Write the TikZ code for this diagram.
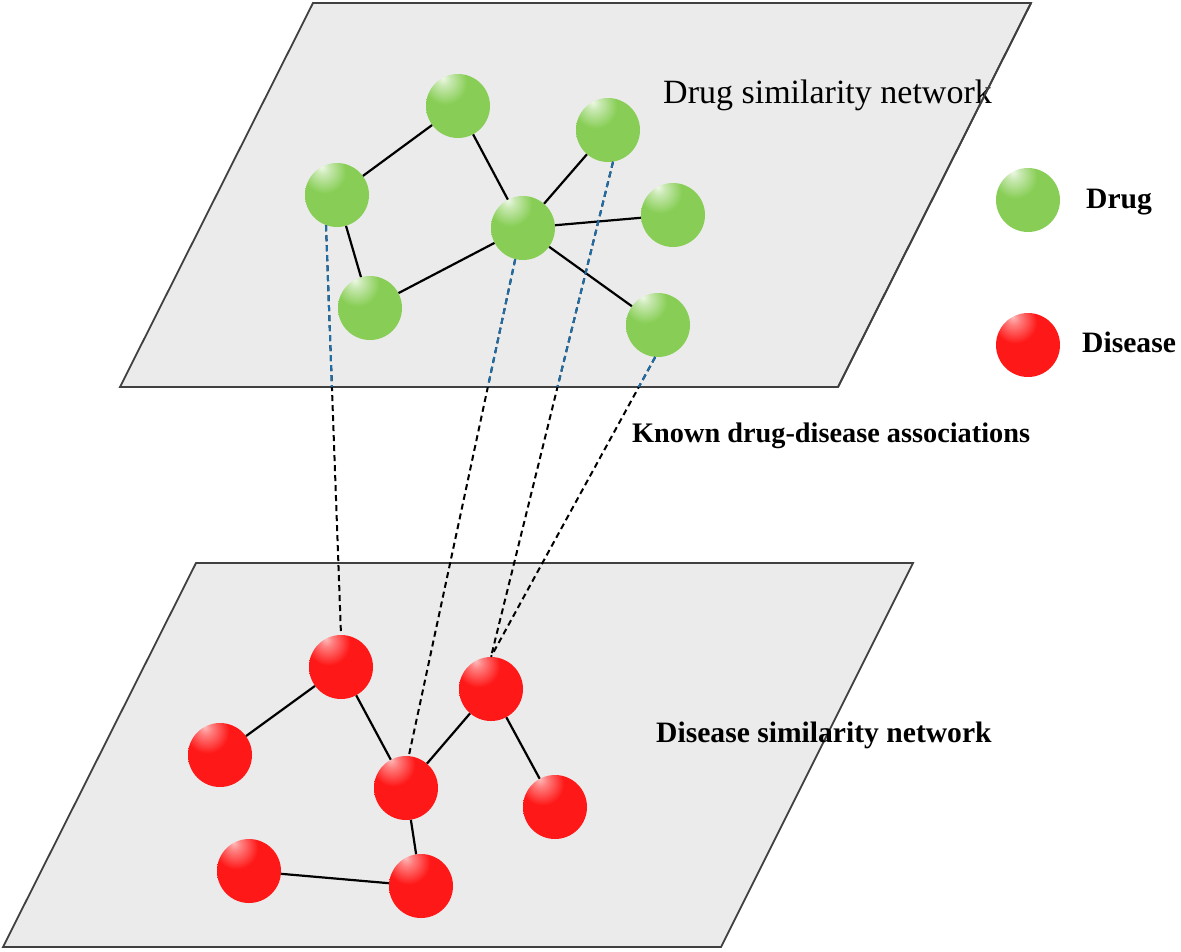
\documentclass[tikz,border=0pt]{standalone}
\usepackage{fontspec}
\setmainfont{Liberation Serif}
\usepackage{tikz}
\definecolor{drug}{RGB}{136,206,86}
\definecolor{dis}{RGB}{255,24,24}
\definecolor{plane}{RGB}{235,235,235}
\definecolor{link}{RGB}{30,110,170}
% flat spheres with a small light spot at the upper left
\pgfdeclareradialshading{drugball}{\pgfpoint{-12bp}{22bp}}{color(0bp)=(white!85!drug); color(5bp)=(white!55!drug); color(17bp)=(drug); color(100bp)=(drug)}
\pgfdeclareradialshading{disball}{\pgfpoint{-12bp}{22bp}}{color(0bp)=(white!70!dis); color(5bp)=(white!45!dis); color(17bp)=(dis); color(100bp)=(dis)}
\tikzset{
    drugnode/.style = {circle, minimum size=64pt, inner sep=0pt, shading=drugball},
    disnode/.style  = {circle, minimum size=64pt, inner sep=0pt, shading=disball},
    layer/.style    = {fill=plane, draw=black!75, line width=1.8pt},
    tie/.style      = {line width=2.2pt},
    assoc/.style    = {dashed, dash pattern=on 6pt off 4pt, line width=2pt},
    bigtxt/.style   = {anchor=base west, inner sep=0pt, font=\fontsize{34}{40}\selectfont},
    boldtxt/.style  = {anchor=base west, inner sep=0pt, font=\fontsize{29.6}{34}\selectfont\bfseries},
}

\begin{document}
\begin{tikzpicture}[x=1pt, y=-1pt]
                \useasboundingbox (0,0) rectangle (1181,951);
                % the two planes
                \draw[layer] (313,3) -- (1031,3) -- (838,387) -- (120,387) -- cycle;
                \draw[layer] (196,563) -- (913,563) -- (721,947) -- (3,947) -- cycle;
                \node[bigtxt] (tdrug) at (663,103) {Drug similarity network};
                \draw[black!75, line width=1.8pt] (1031,3) -- (838,387);

                % drug similarity network
                \node[drugnode] (d1) at (458,106) {};
                \node[drugnode] (d2) at (337,195) {};
                \node[drugnode] (d3) at (608,130) {};
                \node[drugnode] (d4) at (523,228) {};
                \node[drugnode] (d5) at (673,215) {};
                \node[drugnode] (d6) at (370,308) {};
                \node[drugnode] (d7) at (658,325) {};
                \draw[tie] (d2) -- (d1) -- (d4) -- (d6) -- (d2);
                \draw[tie] (d4) -- (d3);
                \draw[tie] (d4) -- (d5);
                \draw[tie] (d4) -- (d7);

                % disease similarity network
                \node[disnode] (s1) at (341,667) {};
                \node[disnode] (s2) at (220,755) {};
                \node[disnode] (s3) at (406,788) {};
                \node[disnode] (s4) at (491,689) {};
                \node[disnode] (s5) at (555,807) {};
                \node[disnode] (s6) at (249,871) {};
                \node[disnode] (s7) at (421,886) {};
                \draw[tie] (s2) -- (s1) -- (s3) -- (s4) -- (s5);
                \draw[tie] (s3) -- (s7) -- (s6);

                % known associations, blue inside the upper plane
                \draw[assoc] (d2.250) -- (s1.north);
                \draw[assoc] (d4.256) -- (s3.85);
                \draw[assoc] (d3.279) -- (s4.north);
                \draw[assoc] (d7.265) -- (s4.north);
                \begin{scope}
                    \clip (313,3) -- (1031,3) -- (838,387) -- (120,387) -- cycle;
                    \draw[assoc, link] (d2.250) -- (s1.north);
                    \draw[assoc, link] (d4.256) -- (s3.85);
                    \draw[assoc, link] (d3.279) -- (s4.north);
                    \draw[assoc, link] (d7.265) -- (s4.north);
                \end{scope}

                % legend and labels
                \node[drugnode] (ldrug) at (1028,200) {};
                \node[disnode] (ldis) at (1028,345) {};
                \node[boldtxt] (tdg) at (1086,208) {Drug};
                \node[boldtxt] (tds) at (1082,352) {Disease};
                \node[boldtxt, font=\fontsize{28.3}{34}\selectfont\bfseries] (tknown) at (632,442) {Known drug-disease associations};
                \node[boldtxt] (tdis) at (656,742) {Disease similarity network};
            \end{tikzpicture}
\end{document}
